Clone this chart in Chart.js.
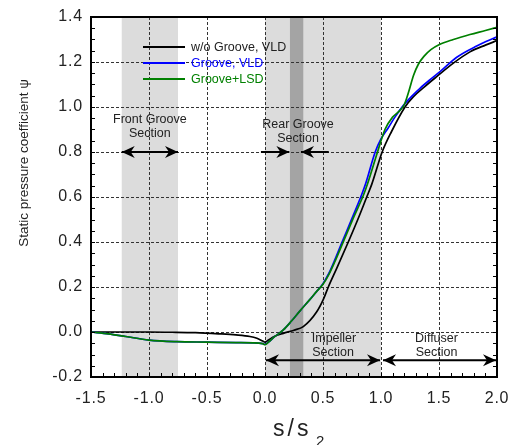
<!DOCTYPE html>
<html>
<head>
<meta charset="utf-8">
<script src="https://cdn.jsdelivr.net/npm/chart.js@4.4.1/dist/chart.umd.min.js"></script>
<style>html,body{margin:0;padding:0;background:#fff;}</style>
</head>
<body>
<canvas id="c" width="512" height="445"></canvas>
<script>
// ---- data ----
const seriesLabels = ['w/o Groove, VLD', 'Groove, VLD', 'Groove+LSD'];
const seriesColors = ['#000000', '#0000ff', '#008000'];

const sWoGroove = [-1.5, -1.2, -1.0, -0.8, -0.6, -0.4, -0.25, -0.13, -0.07, -0.02, 0.0, 0.03, 0.08, 0.158, 0.25, 0.33, 0.446, 0.503, 0.546, 0.62, 0.718, 0.8, 0.877, 0.92, 1.01, 1.09, 1.207, 1.28, 1.38, 1.48, 1.624, 1.767, 1.9, 2.0];
const psiWoGroove = [0.0, 0.0, 0.0, -0.001, -0.003, -0.008, -0.013, -0.02, -0.028, -0.04, -0.045, -0.036, -0.02, -0.006, 0.008, 0.024, 0.09, 0.145, 0.2, 0.285, 0.4, 0.5, 0.6, 0.656, 0.8, 0.89, 1.0, 1.046, 1.092, 1.135, 1.195, 1.245, 1.275, 1.295];

const sGrooveVLD = [-1.5, -1.35, -1.2, -1.0, -0.76, -0.5, -0.25, -0.1, -0.02, 0.0, 0.03, 0.08, 0.158, 0.23, 0.3, 0.388, 0.44, 0.5, 0.55, 0.6, 0.661, 0.75, 0.833, 0.868, 0.95, 1.0, 1.063, 1.12, 1.19, 1.26, 1.336, 1.42, 1.509, 1.653, 1.825, 2.0];
const psiGrooveVLD = [0.0, -0.008, -0.02, -0.036, -0.043, -0.045, -0.047, -0.048, -0.052, -0.055, -0.045, -0.022, 0.009, 0.05, 0.093, 0.145, 0.177, 0.215, 0.26, 0.318, 0.395, 0.505, 0.61, 0.66, 0.8, 0.858, 0.908, 0.955, 1.005, 1.045, 1.083, 1.12, 1.157, 1.221, 1.271, 1.312];

const sGrooveLSD = [-1.5, -1.35, -1.2, -1.0, -0.76, -0.5, -0.25, -0.1, -0.02, 0.0, 0.03, 0.08, 0.158, 0.23, 0.3, 0.388, 0.44, 0.5, 0.55, 0.6, 0.67, 0.76, 0.85, 0.885, 0.97, 1.034, 1.1, 1.15, 1.2, 1.24, 1.28, 1.322, 1.37, 1.43, 1.5, 1.624, 1.767, 1.9, 2.0];
const psiGrooveLSD = [0.0, -0.008, -0.02, -0.036, -0.043, -0.045, -0.047, -0.048, -0.052, -0.056, -0.045, -0.022, 0.009, 0.05, 0.093, 0.145, 0.177, 0.212, 0.255, 0.31, 0.395, 0.505, 0.61, 0.66, 0.8, 0.9, 0.955, 0.978, 1.01, 1.07, 1.14, 1.19, 1.225, 1.255, 1.277, 1.3, 1.322, 1.34, 1.354];

const xTickValues = [-1.5, -1.0, -0.5, 0.0, 0.5, 1.0, 1.5, 2.0];
const yTickValues = [-0.2, 0.0, 0.2, 0.4, 0.6, 0.8, 1.0, 1.2, 1.4];

const frontGrooveSection = [-1.235, -0.75];
const rearGrooveBand = [0.215, 0.33];
const impellerSection = [0.0, 1.0];
const diffuserSection = [1.0, 2.0];

// ---- helpers ----
const toPts = (xs, ys) => xs.map((v, i) => ({x: v, y: ys[i]}));
const FONT = '"Liberation Sans", Arial, sans-serif';

function arrowHead(ctx, tipX, tipY, dir) {
  const L = 13, W = 6, N = 4;
  ctx.beginPath();
  ctx.moveTo(tipX, tipY);
  ctx.lineTo(tipX - dir * L, tipY - W);
  ctx.lineTo(tipX - dir * (L - N), tipY);
  ctx.lineTo(tipX - dir * L, tipY + W);
  ctx.closePath();
  ctx.fill();
}
function hArrow(ctx, x0, x1, y, headStart, headEnd) {
  ctx.beginPath();
  ctx.moveTo(x0, y); ctx.lineTo(x1, y);
  ctx.stroke();
  const dir = x1 > x0 ? 1 : -1;
  if (headEnd) arrowHead(ctx, x1, y, dir);
  if (headStart) arrowHead(ctx, x0, y, -dir);
}

const decor = {
  id: 'decor',
  beforeDraw(chart) {
    const {ctx, chartArea: a, scales: {x}} = chart;
    ctx.save();
    const band = (r, c) => {
      const x0 = x.getPixelForValue(r[0]), x1 = x.getPixelForValue(r[1]);
      ctx.fillStyle = c;
      ctx.fillRect(x0, a.top, x1 - x0, a.bottom - a.top);
    };
    band(frontGrooveSection, '#dcdcdc');
    band(impellerSection, '#dcdcdc');
    band(rearGrooveBand, '#a4a4a4');
    ctx.restore();
    ctx.letterSpacing = '0.8px';
  },
  beforeDatasetsDraw(chart) {
    const {ctx, chartArea: a, scales: {x, y}} = chart;
    ctx.letterSpacing = '0px';
    ctx.save();
    ctx.strokeStyle = '#333';
    ctx.lineWidth = 1;
    ctx.setLineDash([3, 2]);
    ctx.beginPath();
    xTickValues.forEach(v => {
      const px = Math.round(x.getPixelForValue(v)) + 0.5;
      ctx.moveTo(px, a.top); ctx.lineTo(px, a.bottom);
    });
    yTickValues.forEach(v => {
      const py = Math.round(y.getPixelForValue(v)) + 0.5;
      ctx.moveTo(a.left, py); ctx.lineTo(a.right, py);
    });
    ctx.stroke();
    ctx.restore();
  },
  afterDatasetsDraw(chart) {
    const {ctx, chartArea: a, scales: {x, y}} = chart;
    ctx.letterSpacing = '0px';
    ctx.save();
    ctx.strokeStyle = '#000';
    ctx.fillStyle = '#000';
    // minor ticks (inward)
    ctx.lineWidth = 1;
    ctx.beginPath();
    for (let v = -1.5; v <= 2.0001; v += 0.1) {
      const px = Math.round(x.getPixelForValue(v)) + 0.5;
      ctx.moveTo(px, a.bottom); ctx.lineTo(px, a.bottom - 4);
    }
    for (let v = -0.2; v <= 1.4001; v += 0.05) {
      const py = Math.round(y.getPixelForValue(v)) + 0.5;
      ctx.moveTo(a.left, py); ctx.lineTo(a.left + 4, py);
      ctx.moveTo(a.right, py); ctx.lineTo(a.right - 4, py);
    }
    ctx.stroke();
    // frame
    ctx.lineWidth = 2;
    ctx.strokeRect(a.left, a.top, a.right - a.left, a.bottom - a.top);

    // arrows
    ctx.lineWidth = 2;
    const y08 = y.getPixelForValue(0.8);
    hArrow(ctx, x.getPixelForValue(frontGrooveSection[0]), x.getPixelForValue(frontGrooveSection[1]), y08, true, true);
    hArrow(ctx, x.getPixelForValue(-0.035), x.getPixelForValue(rearGrooveBand[0] - 0.005), y08, false, true);
    hArrow(ctx, x.getPixelForValue(0.55), x.getPixelForValue(rearGrooveBand[1] - 0.02), y08, false, true);
    const yImp = y.getPixelForValue(-0.126);
    hArrow(ctx, x.getPixelForValue(impellerSection[0]) + 1, x.getPixelForValue(impellerSection[1]) - 1, yImp, true, true);
    hArrow(ctx, x.getPixelForValue(diffuserSection[0]) + 2, x.getPixelForValue(diffuserSection[1]) - 1, yImp, true, true);

    // annotation texts
    ctx.font = '12.5px ' + FONT;
    ctx.fillStyle = '#222';
    ctx.textAlign = 'center';
    ctx.textBaseline = 'middle';
    const cx = (r) => (x.getPixelForValue(r[0]) + x.getPixelForValue(r[1])) / 2;
    ctx.fillText('Front Groove', cx(frontGrooveSection), 120);
    ctx.fillText('Section', cx(frontGrooveSection), 134);
    ctx.fillText('Rear Groove', 298, 125);
    ctx.fillText('Section', 298, 138.5);
    ctx.fillText('Impeller', 334, 339);
    ctx.fillText('Section', 333, 353);
    ctx.fillText('Diffuser', 436.5, 339);
    ctx.fillText('Section', 436.5, 353);

    // legend
    ctx.textAlign = 'left';
    ctx.font = '12.5px ' + FONT;
    chart.data.datasets.forEach((ds, i) => {
      const ly = 47 + i * 16;
      ctx.strokeStyle = ds.borderColor;
      ctx.lineWidth = 2;
      ctx.beginPath();
      ctx.moveTo(143, ly); ctx.lineTo(185, ly);
      ctx.stroke();
      ctx.fillStyle = i === 0 ? '#222' : ds.borderColor;
      ctx.fillText(ds.label, 191, ly + 0.5);
    });

    // axis titles
    ctx.fillStyle = '#222';
    ctx.save();
    ctx.translate(24, 163);
    ctx.rotate(-Math.PI / 2);
    ctx.textAlign = 'center';
    ctx.textBaseline = 'middle';
    ctx.font = '13.5px ' + FONT;
    ctx.fillText('Static pressure coefficient \u03C8', 0, 0);
    ctx.restore();

    ctx.textAlign = 'left';
    ctx.textBaseline = 'alphabetic';
    ctx.font = '23px ' + FONT;
    ctx.letterSpacing = '3px';
    ctx.fillText('s/s', 273, 436);
    ctx.font = '15px ' + FONT;
    ctx.letterSpacing = '0px';
    ctx.fillText('2', 316, 446);
    ctx.restore();
  }
};

new Chart(document.getElementById('c'), {
  type: 'line',
  data: {
    datasets: [
      {label: seriesLabels[0], data: toPts(sWoGroove, psiWoGroove), borderColor: seriesColors[0], order: 2},
      {label: seriesLabels[1], data: toPts(sGrooveVLD, psiGrooveVLD), borderColor: seriesColors[1], order: 1},
      {label: seriesLabels[2], data: toPts(sGrooveLSD, psiGrooveLSD), borderColor: seriesColors[2], order: 0}
    ]
  },
  options: {
    responsive: false,
    animation: false,
    devicePixelRatio: 1,
    layout: {padding: {left: 0, right: 15, top: 17, bottom: 0}},
    elements: {
      point: {radius: 0},
      line: {borderWidth: 1.7, cubicInterpolationMode: 'monotone', fill: false}
    },
    plugins: {legend: {display: false}, tooltip: {enabled: false}},
    scales: {
      x: {
        type: 'linear',
        min: xTickValues[0], max: xTickValues[xTickValues.length - 1],
        afterBuildTicks: s => { s.ticks = xTickValues.map(v => ({value: v})); },
        afterFit: s => { s.height = 68; s.paddingLeft = 0; s.paddingRight = 0; },
        ticks: {
          callback: v => v.toFixed(1),
          font: {family: FONT, size: 16},
          color: '#222',
          padding: 12,
          maxRotation: 0,
          autoSkip: false
        },
        grid: {display: false, drawTicks: false},
        border: {display: false}
      },
      y: {
        type: 'linear',
        min: yTickValues[0], max: yTickValues[yTickValues.length - 1],
        afterBuildTicks: s => { s.ticks = yTickValues.map(v => ({value: v})); },
        afterFit: s => { s.width = 91; s.paddingTop = 0; s.paddingBottom = 0; },
        ticks: {
          callback: v => v.toFixed(1),
          font: {family: FONT, size: 16},
          color: '#222',
          padding: 8,
          autoSkip: false
        },
        grid: {display: false, drawTicks: false},
        border: {display: false}
      }
    }
  },
  plugins: [decor]
});
</script>
</body>
</html>
